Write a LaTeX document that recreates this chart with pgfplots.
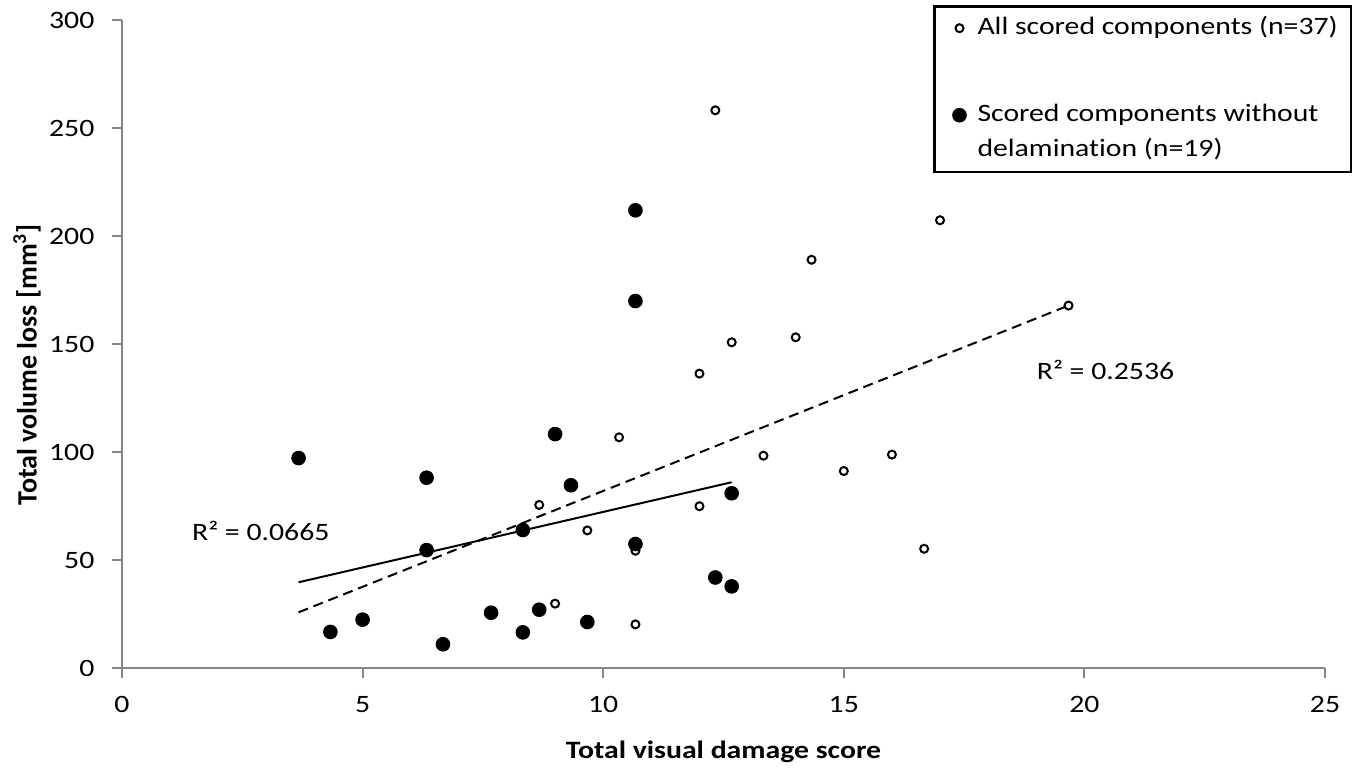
\documentclass[border=0pt]{standalone}
\usepackage{pgfplots}
\pgfplotsset{compat=1.18}
\usepackage{fontspec}
\setmainfont{Carlito}[FakeStretch=1.19, Ligatures=NoCommon]
\newfontfamily\ylabfont{Carlito}[Ligatures=NoCommon]
\definecolor{axisgray}{RGB}{134,134,134}
\begin{document}
\begin{tikzpicture}[font=\fontsize{12.5}{15}\selectfont]
\useasboundingbox (-61pt,-52.5pt) rectangle (620.5pt,334pt);
\begin{axis}[
  scale only axis, width=601.5pt, height=324pt,
  xmin=0, xmax=25, ymin=0, ymax=300,
  xtick={0,5,...,25}, ytick={0,50,...,300},
  axis lines=left, axis line style={-, axisgray, line width=1pt},
  tick style={axisgray, line width=1pt}, tick align=outside, major tick length=5pt,
  /pgf/number format/assume math mode=true,
  xticklabel={\pgfmathprintnumber{\tick}},
  yticklabel={\pgfmathprintnumber{\tick}},
  xticklabel style={font=\fontsize{12.5}{15}\selectfont, yshift=-5.8pt},
  yticklabel style={font=\fontsize{12.5}{15}\selectfont, xshift=-5.3pt},
  every axis x label/.style={at={(axis description cs:0.5,0)}, anchor=center, yshift=-42pt, font=\fontsize{12.5}{15}\selectfont\bfseries},
  every axis y label/.style={at={(axis description cs:-0.079,0.468)}, anchor=center, rotate=90, font=\ylabfont\fontsize{14}{17}\selectfont\bfseries},
  xlabel={Total visual damage score},
  ylabel={Total volume loss [mm\textsuperscript{3}]},
  legend style={at={(axis description cs:1.0224,1.023)}, anchor=north east, draw=black, line width=1.2pt,
    font=\fontsize{12.5}{15}\selectfont, cells={anchor=base west}, row sep=0pt, column sep=0pt,
    inner xsep=6.5pt, inner ysep=2.2pt,
    nodes={inner xsep=0pt, inner ysep=2.75pt, text height=9pt, text depth=3pt}},
  clip=false,
]
\addplot[only marks, mark=o, mark size=2pt, line width=1pt, black, mark options={fill=white},
  legend image code/.code={\path (-5.5pt,3pt) (8.5pt,3pt); \draw[only marks, mark=o, mark size=2pt, line width=1pt, black, mark options={fill=white}] plot coordinates {(0pt,3pt)};}] coordinates {
(3.67,97.2) (4.33,16.7) (5,22.4) (6.33,88.1) (6.33,54.6) (6.67,11.0) (7.67,25.6) (8.33,63.9) (8.33,16.5) (8.67,27.0)
(9,108.3) (9.33,84.6) (9.67,21.3) (10.67,211.9) (10.67,169.9) (10.67,57.4) (12.33,41.9) (12.67,80.9) (12.67,37.8)
(8.67,75.5) (9,29.8) (9.67,63.7) (10.67,54.3) (10.67,20.2) (10.33,106.8) (12,136.3) (12,74.9) (12.33,258.2)
(12.67,150.8) (13.33,98.3) (14,153.1) (14.33,189.0) (15,91.2) (16,98.8) (16.67,55.2) (17,207.3) (19.67,167.8)
};
\addlegendentry[text depth=29pt]{All scored components (n=37)}
\addplot[only marks, mark=*, mark size=3.4pt, line width=0.5pt, black, mark options={fill=black},
  legend image code/.code={\path (-5.5pt,3pt) (8.5pt,3pt); \draw[only marks, mark=*, mark size=3.4pt, line width=0.5pt, black, mark options={fill=black}] plot coordinates {(0pt,3pt)};}] coordinates {
(3.67,97.2) (4.33,16.7) (5,22.4) (6.33,88.1) (6.33,54.6) (6.67,11.0) (7.67,25.6) (8.33,63.9) (8.33,16.5) (8.67,27.0)
(9,108.3) (9.33,84.6) (9.67,21.3) (10.67,211.9) (10.67,169.9) (10.67,57.4) (12.33,41.9) (12.67,80.9) (12.67,37.8)
};
\addlegendentry{Scored components without}
\addlegendimage{empty legend}
\addlegendentry{delamination (n=19)}
\addplot[forget plot, black, line width=1pt, dash pattern=on 5pt off 3pt] coordinates {(3.67,25.8) (19.67,167.8)};
\addplot[forget plot, black, line width=1pt] coordinates {(3.67,39.7) (12.67,86.0)};
\node[anchor=west, font=\fontsize{12.5}{15}\selectfont] at (axis cs:1.31,63.4) {R² = 0.0665};
\node[anchor=west, font=\fontsize{12.5}{15}\selectfont] at (axis cs:18.865,138) {R² = 0.2536};
\end{axis}
\end{tikzpicture}
\end{document}
